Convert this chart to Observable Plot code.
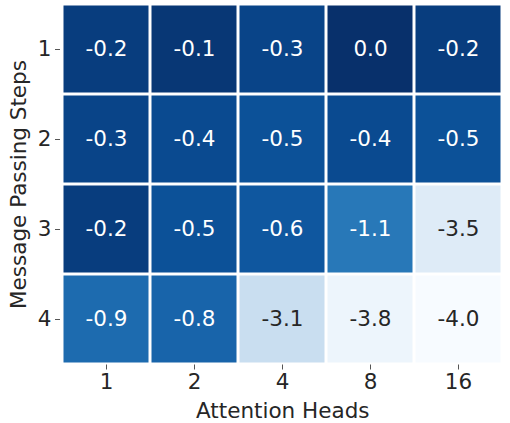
<!DOCTYPE html>
<html>
<head>
<meta charset="utf-8">
<script src="https://cdn.jsdelivr.net/npm/d3@7"></script>
<script src="https://cdn.jsdelivr.net/npm/@observablehq/plot@0.6"></script>
<style>
  html, body { margin: 0; padding: 0; background: #fff; }
</style>
</head>
<body>
<div id="chart"></div>
<script>
// Attention heads (columns) and message passing steps (rows)
const heads = ["1", "2", "4", "8", "16"];
const steps = ["1", "2", "3", "4"];

// Score per row of steps, one value per head
const step1 = [-0.2, -0.1, -0.3, 0.0, -0.2];
const step2 = [-0.3, -0.4, -0.5, -0.4, -0.5];
const step3 = [-0.2, -0.5, -0.6, -1.1, -3.5];
const step4 = [-0.9, -0.8, -3.1, -3.8, -4.0];

const rows = [step1, step2, step3, step4];
const table = [];
rows.forEach((vals, i) => {
  vals.forEach((v, j) => table.push({step: steps[i], head: heads[j], value: v}));
});

const font = "DejaVu Sans, sans-serif";
const fs = 21.5;

const chart = Plot.plot({
  width: 510,
  height: 423,
  marginLeft: 60,
  marginRight: 5.5,
  marginTop: 3.5,
  marginBottom: 58.5,
  style: {fontFamily: font, fontSize: fs + "px", color: "#262626", background: "#fff"},
  x: {domain: heads, padding: 0, label: null},
  y: {domain: steps, padding: 0, label: null},
  color: {type: "linear", scheme: "blues", domain: [-4, 0]},
  marks: [
    Plot.cell(table, {x: "head", y: "step", fill: "value", inset: 1.5}),
    Plot.text(table, {
      x: "head", y: "step",
      text: d => d.value.toFixed(1),
      fill: d => d.value > -2 ? "#ffffff" : "#262626",
      fontSize: fs
    }),
    Plot.axisX({tickSize: 5, tickPadding: 3.5, fontSize: fs, label: null, stroke: "#555"}),
    Plot.axisY({tickSize: 5, tickPadding: 4, fontSize: fs, label: null, stroke: "#555"}),
    Plot.text(["Attention Heads"], {
      frameAnchor: "bottom", dy: 46.5, textAnchor: "middle", lineAnchor: "middle",
      fontSize: fs, fill: "#262626"
    }),
    Plot.text(["Message Passing Steps"], {
      frameAnchor: "left", dx: -41, rotate: -90, textAnchor: "middle", lineAnchor: "middle",
      fontSize: fs, fill: "#262626"
    })
  ]
});

document.getElementById("chart").appendChild(chart);
</script>
</body>
</html>
